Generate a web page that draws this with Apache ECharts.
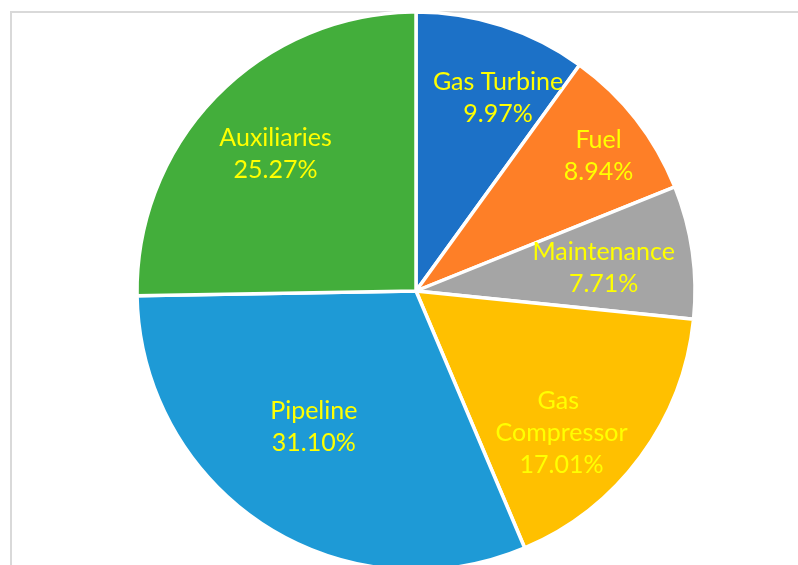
<!DOCTYPE html>
<html>
<head>
<meta charset="utf-8">
<script src="https://cdn.jsdelivr.net/npm/echarts@6/dist/echarts.min.js"></script>
<style>
  html, body { margin: 0; padding: 0; background: #ffffff; }
  #chart { width: 798px; height: 565px; }
</style>
</head>
<body>
<div id="chart"></div>
<script>
// Cost breakdown shares (percent), clockwise from 12 o'clock
const categories = ['Gas Turbine', 'Fuel', 'Maintenance', 'Gas Compressor', 'Pipeline', 'Auxiliaries'];
const shares = [9.97, 8.94, 7.71, 17.01, 31.10, 25.27];
const sliceColors = ['#1C71C7', '#FE7F27', '#A5A5A5', '#FFC000', '#1E9AD6', '#43AE3B'];

// Label placement inside each slice: fraction of the radius and a small angular nudge (degrees)
const labelRadiusRatio = [0.754, 0.815, 0.678, 0.727, 0.608, 0.707];
const labelAngleShift = [5.0, 1.4, 0.8, 7.7, 4.0, 0.1];

const CENTER = [416, 291];
const RADIUS = 279;

const total = shares.reduce((a, b) => a + b, 0);
const midAngles = [];
let acc = 0;
shares.forEach(v => {
  midAngles.push((acc + v / 2) / total * 360);
  acc += v;
});

const chart = echarts.init(document.getElementById('chart'), null, { renderer: 'canvas' });

chart.setOption({
  animation: false,
  backgroundColor: '#ffffff',
  graphic: [{
    type: 'rect',
    z: -10,
    silent: true,
    shape: { x: 11, y: 12, width: 900, height: 700 },
    style: { fill: 'none', stroke: '#D9D9D9', lineWidth: 2 }
  }],
  series: [{
    type: 'pie',
    center: CENTER,
    radius: RADIUS,
    startAngle: 90,
    clockwise: true,
    avoidLabelOverlap: false,
    itemStyle: { borderColor: '#ffffff', borderWidth: 3.5 },
    emphasis: { disabled: true },
    label: {
      show: true,
      position: 'inside',
      color: '#FFFF00',
      fontFamily: 'Lato',
      fontSize: 25,
      lineHeight: 32,
      align: 'center',
      formatter: p => p.name + '\n' + p.value.toFixed(2) + '%'
    },
    labelLine: { show: false },
    labelLayout: function (params) {
      const i = params.dataIndex;
      const ang = (midAngles[i] + labelAngleShift[i]) * Math.PI / 180;
      const r = RADIUS * labelRadiusRatio[i];
      return {
        x: CENTER[0] + r * Math.sin(ang),
        y: CENTER[1] - r * Math.cos(ang) + 1,
        align: 'center',
        verticalAlign: 'middle'
      };
    },
    data: categories.map((name, i) => {
      const item = { name: name, value: shares[i], itemStyle: { color: sliceColors[i] } };
      if (name === 'Gas Compressor') {
        item.label = { width: 150, overflow: 'break' };
      }
      return item;
    })
  }]
});
</script>
</body>
</html>
